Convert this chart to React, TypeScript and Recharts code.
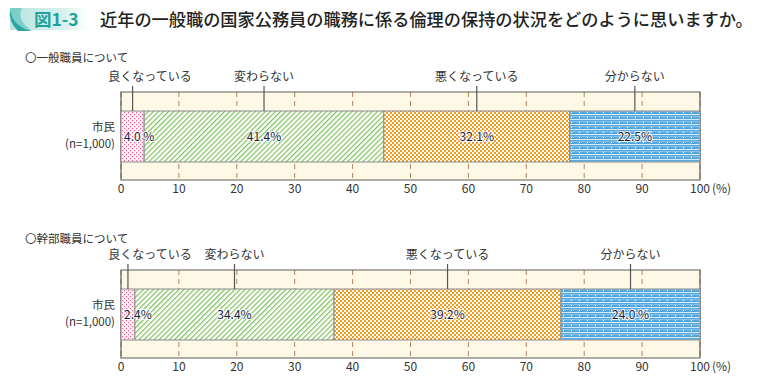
import { BarChart, Bar, XAxis, YAxis, CartesianGrid, ReferenceArea, LabelList } from "recharts";

const categories = ["良くなっている", "変わらない", "悪くなっている", "分からない"];
const generalValues = [4.0, 41.4, 32.1, 22.5];
const executiveValues = [2.4, 34.4, 39.2, 24.0];
const generalLabels = ["4.0 %", "41.4%", "32.1%", "22.5%"];
const executiveLabels = ["2.4%", "34.4%", "39.2%", "24.0 %"];
const respondent = ["市民", "(n=1,000)"];
const xTicks = [0, 10, 20, 30, 40, 50, 60, 70, 80, 90, 100];

const title = "近年の一般職の国家公務員の職務に係る倫理の保持の状況をどのように思いますか。";
const sections = ["〇一般職員について", "〇幹部職員について"];

const FONT = "'Noto Sans CJK JP', 'Noto Sans', sans-serif";
const fills = ["url(#pPink)", "url(#pGreen)", "url(#pOrange)", "url(#pBlue)"];

const YTick = (props: any) => {
  const { x, y } = props;
  return (
    <g>
      <text x={x + 6} y={y - 5} textAnchor="end" fontSize={11.5} fill="#333" fontFamily={FONT}>
        {respondent[0]}
      </text>
      <text x={x + 6} y={y + 11.5} textAnchor="end" fontSize={11.5} fill="#333" fontFamily={FONT}>
        {respondent[1]}
      </text>
    </g>
  );
};

const XTick = (props: any) => {
  const { x, y, payload } = props;
  return (
    <g>
      <text x={x} y={y + 5} textAnchor="middle" fontSize={12} fill="#333" fontFamily={FONT}>
        {payload.value}
      </text>
      {payload.value === 100 && (
        <text x={x + 12} y={y + 5} textAnchor="start" fontSize={12} fill="#333" fontFamily={FONT}>
          (%)
        </text>
      )}
    </g>
  );
};

function Patterns() {
  return (
    <defs>
      <pattern id="pPink" width="4" height="4" patternUnits="userSpaceOnUse">
        <rect width="4" height="4" fill="#fdf1f6" />
        <rect x="0" y="0" width="1.2" height="1.2" fill="#e8609c" />
        <rect x="2" y="2" width="1.2" height="1.2" fill="#e8609c" />
      </pattern>
      <pattern id="pGreen" width="3.6" height="3.6" patternUnits="userSpaceOnUse" patternTransform="rotate(45)">
        <rect width="3.6" height="3.6" fill="#ffffff" />
        <rect x="0" y="0" width="1.2" height="3.6" fill="#7ec25c" />
      </pattern>
      <pattern id="pOrange" width="4" height="4" patternUnits="userSpaceOnUse">
        <rect width="4" height="4" fill="#f39b1f" />
        <rect x="0" y="0" width="2" height="2" fill="#ffffff" />
        <rect x="2" y="2" width="2" height="2" fill="#ffffff" />
      </pattern>
      <pattern id="pBlue" width="8" height="5" patternUnits="userSpaceOnUse">
        <rect width="8" height="5" fill="#56a8de" />
        <rect x="0" y="1" width="8" height="1" fill="#86c2ea" />
        <rect x="0" y="4" width="8" height="1" fill="#d8ecf8" />
        <rect x="3" y="2" width="1" height="1" fill="#ffffff" />
        <rect x="6" y="3" width="1" height="1" fill="#3f95d0" />
      </pattern>
    </defs>
  );
}

function Panel({ values, labels, top }: { values: number[]; labels: string[]; top: number }) {
  const row: any = { name: respondent[0] };
  values.forEach((v, i) => (row["s" + i] = v));
  return (
    <div style={{ position: "absolute", left: 0, top }}>
      <BarChart
        width={760}
        height={165}
        data={[row]}
        layout="vertical"
        margin={{ top: 52, right: 60, bottom: 0, left: 0 }}
      >
        <Patterns />
        <CartesianGrid
          horizontal={false}
          vertical
          fill="#fef9e6"
          stroke="#b3865f"
          strokeDasharray="5 4"
        />
        <XAxis
          type="number"
          domain={[0, 100]}
          ticks={xTicks}
          axisLine={false}
          tickLine={false}
          height={25}
          tick={<XTick />}
          interval={0}
        />
        <YAxis
          type="category"
          dataKey="name"
          width={121}
          axisLine={false}
          tickLine={false}
          tickMargin={6}
          tick={<YTick />}
        />
        <ReferenceArea x1={0} x2={100} fill="none" stroke="#5c5c5c" strokeWidth={1.2} />
        {values.map((_, i) => (
          <Bar
            key={i}
            dataKey={"s" + i}
            stackId="a"
            barSize={51}
            fill={fills[i]}
            stroke="#8a8a8a"
            strokeWidth={1}
            isAnimationActive={false}
          >
            <LabelList
              dataKey={"s" + i}
              content={(p: any) => {
                const x = Number(p.x);
                const y = Number(p.y);
                const w = Number(p.width);
                const h = Number(p.height);
                const cx = x + w / 2;
                const labelX = Math.max(cx, 150);
                const small = w < 40;
                return (
                  <g>
                    <line x1={cx} y1={y} x2={cx} y2={y - 25} stroke="#555" strokeWidth={1.2} />
                    <text
                      x={labelX}
                      y={y - 30}
                      textAnchor="middle"
                      fontSize={12}
                      fill="#333"
                      fontFamily={FONT}
                    >
                      {categories[i]}
                    </text>
                    <text
                      x={small ? x + 3 : cx}
                      y={y + h / 2 + 4}
                      textAnchor={small ? "start" : "middle"}
                      fontSize={12}
                      fill="#1e1e3c"
                      stroke="#ffffff"
                      strokeWidth={2}
                      strokeOpacity={0.85}
                      paintOrder="stroke"
                      fontFamily={FONT}
                    >
                      {labels[i]}
                    </text>
                  </g>
                );
              }}
            />
          </Bar>
        ))}
      </BarChart>
    </div>
  );
}

export default function App() {
  return (
    <div
      style={{
        position: "absolute",
        left: 0,
        top: 0,
        width: 760,
        height: 385,
        background: "#ffffff",
        fontFamily: FONT,
        overflow: "hidden",
      }}
    >
      <svg width={760} height={40} style={{ position: "absolute", left: 0, top: 0 }}>
        <defs>
          <linearGradient id="badge" x1="0" y1="0" x2="1" y2="0">
            <stop offset="0" stopColor="#b9e4e0" />
            <stop offset="0.7" stopColor="#d9f1ee" />
            <stop offset="1" stopColor="#ffffff" />
          </linearGradient>
        </defs>
        <rect x={10} y={8} width={78} height={22} fill="url(#badge)" />
        <path d="M10 8 Q12 26 32 31 L18 31 Q8 22 10 8 Z" fill="#2aa7a3" />
        <path d="M10 8 L22 8 Q16 20 32 31 Q12 26 10 8 Z" fill="#7ccfc9" />
        <text x={34} y={26} fontSize={17.5} fontWeight={700} fill="#1ea19d" fontFamily={FONT}>
          図1-3
        </text>
        <text x={100} y={26} fontSize={17.2} fontWeight={500} fill="#222" fontFamily={FONT}>
          {title}
        </text>
      </svg>
      <div style={{ position: "absolute", left: 25, top: 49, fontSize: 11.5, color: "#333", lineHeight: "16px" }}>
        {sections[0]}
      </div>
      <div style={{ position: "absolute", left: 25, top: 230, fontSize: 11.5, color: "#333", lineHeight: "16px" }}>
        {sections[1]}
      </div>
      <Panel values={generalValues} labels={generalLabels} top={40} />
      <Panel values={executiveValues} labels={executiveLabels} top={218} />
    </div>
  );
}
